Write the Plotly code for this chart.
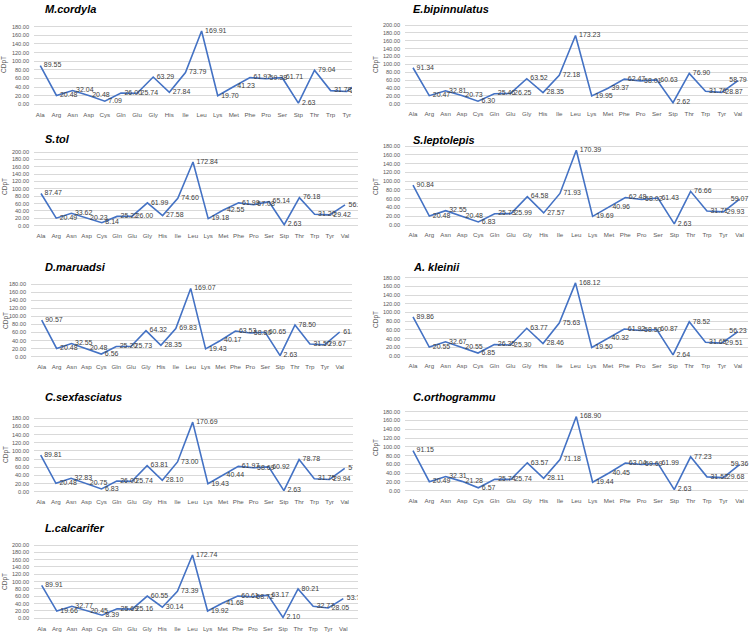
import plotly.graph_objects as go

categories = ["Ala", "Arg", "Asn", "Asp", "Cys", "Gln", "Glu", "Gly", "His", "Ile", "Leu",
              "Lys", "Met", "Phe", "Pro", "Ser", "Stp", "Thr", "Trp", "Tyr", "Val"]

species_names = ["M.cordyla", "E.bipinnulatus", "S.tol", "S.leptolepis", "D.maruadsi",
                 "A. kleinii", "C.sexfasciatus", "C.orthogrammu", "L.calcarifer"]

m_cordyla = [89.55, 20.48, 32.04, 20.48, 7.09, 26.00, 25.74, 63.29, 27.84, 73.79, 169.91,
             19.70, 41.23, 61.97, 59.38, 61.71, 2.63, 79.04, 31.78, 29.75, 57.50]
e_bipinnulatus = [91.34, 20.47, 32.81, 20.73, 6.30, 25.46, 26.25, 63.52, 28.35, 72.18, 173.23,
                  19.95, 39.37, 62.47, 58.01, 60.63, 2.62, 76.90, 31.76, 28.87, 58.79]
s_tol = [87.47, 20.49, 33.62, 20.23, 8.14, 25.22, 26.00, 61.99, 27.58, 74.60, 172.84,
         19.18, 42.55, 61.99, 57.08, 65.14, 2.63, 76.18, 31.20, 29.42, 56.47]
s_leptolepis = [90.84, 20.48, 32.55, 20.48, 6.83, 25.73, 25.99, 64.58, 27.57, 71.93, 170.39,
                19.69, 40.96, 62.48, 58.02, 61.43, 2.63, 76.66, 31.71, 29.93, 59.07]
d_maruadsi = [90.57, 20.48, 32.55, 20.48, 6.56, 25.20, 25.73, 64.32, 28.35, 69.83, 169.07,
              19.43, 40.17, 63.53, 58.80, 60.65, 2.63, 78.50, 31.50, 29.67, 61.17]
a_kleinii = [89.86, 20.55, 32.67, 20.55, 6.85, 26.35, 25.30, 63.77, 28.46, 75.63, 168.12,
             19.50, 40.32, 61.92, 58.50, 60.87, 2.64, 78.52, 31.65, 29.51, 56.23]
c_sexfasciatus = [89.81, 20.48, 32.83, 20.75, 6.83, 26.00, 25.74, 63.81, 28.10, 73.00, 170.69,
                  19.43, 40.44, 61.97, 58.69, 60.92, 2.63, 78.78, 31.75, 29.94, 57.24]
c_orthogrammu = [91.15, 20.49, 32.31, 21.28, 6.57, 25.74, 25.74, 63.57, 28.11, 71.18, 168.90,
                 19.44, 40.45, 63.04, 59.69, 61.99, 2.63, 77.23, 31.52, 29.68, 59.36]
l_calcarifer = [89.91, 19.66, 32.77, 20.45, 8.39, 25.69, 25.16, 60.55, 30.14, 73.39, 172.74,
                19.92, 41.68, 60.61, 58.72, 63.17, 2.10, 80.21, 32.77, 28.05, 53.74]

series = [m_cordyla, e_bipinnulatus, s_tol, s_leptolepis, d_maruadsi,
          a_kleinii, c_sexfasciatus, c_orthogrammu, l_calcarifer]
y_axis_max = [180, 200, 200, 180, 180, 180, 180, 180, 200]

# panel geometry in pixels: plot-left, plot-right, first category x, category spacing,
# y of 0 gridline, y of top gridline, title (x, y), axis-title (x, y), clip flag
W, H = 755, 632
geom = [
    dict(xl=34, xr=352, x0=40.3, dx=16.13, yz=104.3, yt=26.7, tx=43, ty=9, cx=4, cy=65, clip=True),
    dict(xl=405, xr=748, x0=413, dx=16.25, yz=103.7, yt=25.0, tx=411, ty=9, cx=376, cy=65, clip=False),
    dict(xl=34, xr=358, x0=41, dx=15.2, yz=225.7, yt=152.0, tx=43, ty=139, cx=5, cy=187, clip=True),
    dict(xl=405, xr=748, x0=413, dx=16.33, yz=225.0, yt=146.0, tx=411, ty=140, cx=376, cy=187, clip=False),
    dict(xl=31, xr=352, x0=41.7, dx=14.9, yz=356.7, yt=284.0, tx=43, ty=267, cx=6, cy=321, clip=True),
    dict(xl=405, xr=748, x0=413, dx=16.25, yz=356.0, yt=277.7, tx=411, ty=267, cx=376, cy=320, clip=False),
    dict(xl=34, xr=353, x0=40.7, dx=15.2, yz=491.7, yt=418.3, tx=43, ty=397, cx=6, cy=455, clip=True),
    dict(xl=405, xr=748, x0=413, dx=16.33, yz=490.7, yt=411.7, tx=411, ty=397, cx=376, cy=448, clip=False),
    dict(xl=34, xr=358, x0=41.7, dx=15.08, yz=618.3, yt=545.0, tx=43, ty=528, cx=5, cy=582, clip=True),
]

FONT = "Liberation Sans, Arial, sans-serif"
LINE = "#4472C4"

fig = go.Figure()
annotations = []
layout = {}
for i, (name, vals, top, g) in enumerate(zip(species_names, series, y_axis_max, geom)):
    n = i + 1
    xa = "x" if n == 1 else f"x{n}"
    ya = "y" if n == 1 else f"y{n}"
    positions = ["middle right"] * len(vals)
    if not g["clip"]:
        positions[-1] = "middle center"
    fig.add_trace(go.Scatter(
        x=list(range(len(categories))), y=vals, mode="lines+markers+text",
        text=[f"{v:.2f}" for v in vals], textposition=positions,
        textfont=dict(family=FONT, size=7, color="#404040"),
        marker=dict(size=4, opacity=0, color=LINE),
        line=dict(color=LINE, width=1.6), xaxis=xa, yaxis=ya,
        showlegend=False, hoverinfo="skip", cliponaxis=g["clip"],
    ))
    a = -(g["x0"] - g["xl"]) / g["dx"]
    b = a + (g["xr"] - g["xl"]) / g["dx"]
    k = top / (g["yz"] - g["yt"])
    pad_b, pad_t = 5, 5
    ybot = g["yz"] + pad_b
    ytop = g["yt"] - pad_t
    layout[f"xaxis{'' if n == 1 else n}"] = dict(
        domain=[g["xl"] / W, g["xr"] / W], range=[a, b], anchor=ya,
        tickvals=list(range(len(categories))), ticktext=categories,
        showgrid=False, zeroline=False, showline=False, ticks="",
        tickfont=dict(family=FONT, size=6.2, color="#595959"), ticklabelstandoff=0,
        fixedrange=True,
    )
    layout[f"yaxis{'' if n == 1 else n}"] = dict(
        domain=[1 - ybot / H, 1 - ytop / H], range=[-pad_b * k, top + pad_t * k], anchor=xa,
        tickvals=list(range(0, top + 1, 20)), ticktext=[f"{t:.2f}" for t in range(0, top + 1, 20)],
        showgrid=True, gridcolor="#D9D9D9", gridwidth=0.8, zeroline=False, showline=False, ticks="",
        tickfont=dict(family=FONT, size=5.6, color="#595959"), ticklabelstandoff=4,
        fixedrange=True,
    )
    annotations.append(dict(
        text=f"<b><i>{name}</i></b>", x=g["tx"] / W, y=1 - g["ty"] / H, xref="paper", yref="paper",
        xanchor="left", yanchor="middle", showarrow=False,
        font=dict(family=FONT, size=11, color="#000000"),
    ))
    annotations.append(dict(
        text="CDpT", x=g["cx"] / W, y=1 - g["cy"] / H, xref="paper", yref="paper",
        xanchor="center", yanchor="middle", showarrow=False, textangle=-90,
        font=dict(family=FONT, size=6.5, color="#595959"),
    ))

fig.update_layout(
    width=W, height=H, margin=dict(l=0, r=0, t=0, b=0),
    paper_bgcolor="white", plot_bgcolor="white",
    annotations=annotations, **layout,
)
fig.write_html("out.html")
